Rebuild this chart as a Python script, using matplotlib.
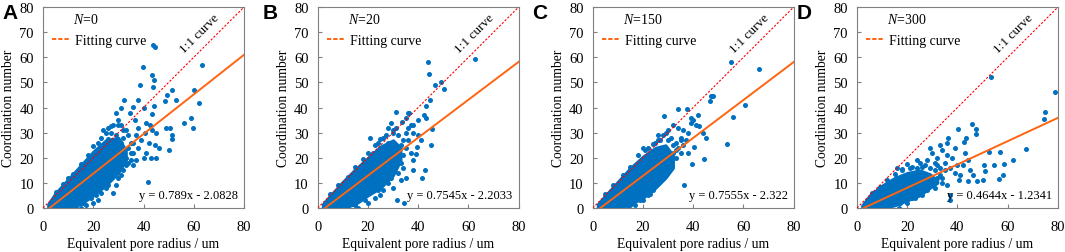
import matplotlib
matplotlib.use('Agg')
import matplotlib.pyplot as plt

plt.rcParams['font.family'] = 'Liberation Serif'
plt.rcParams['mathtext.fontset'] = 'custom'
plt.rcParams['mathtext.it'] = 'Liberation Serif:italic'
plt.rcParams['mathtext.rm'] = 'Liberation Serif'

# panel letters and simulation counts
panels = ['A', 'B', 'C', 'D']
n_values = ['0', '20', '150', '300']
equations = ['y = 0.789x - 2.0828', 'y = 0.7545x - 2.2033',
             'y = 0.7555x - 2.322', 'y = 0.4644x - 1.2341']

# fitted line end points (x where y=0, and y at x=80)
fit_x = [[2.64, 80], [2.92, 80], [3.07, 80], [2.66, 80]]
fit_y = [[0, 61.0], [0, 58.2], [0, 58.1], [0, 35.9]]

# dense core of each cloud: x, lower edge, upper edge
core_x = [[2, 5, 10, 15, 20, 25, 30, 33],
          [2, 5, 10, 15, 20, 25, 30, 33],
          [2, 5, 10, 15, 20, 25, 29, 32],
          [2, 5, 10, 15, 20, 25, 29, 32]]
core_lo = [[0, 0, 0, 1.5, 5, 9, 14, 19],
           [0, 0, 0, 1.5, 5, 8, 13, 19],
           [0, 0, 0, 1.5, 4, 8, 12, 16],
           [0, 0, 0, 1, 3, 5, 8, 10]]
core_hi = [[1.5, 6, 11.5, 17, 22.5, 27, 28, 23],
           [1.5, 5, 10.5, 15.5, 20, 24.5, 27, 24],
           [1.5, 5, 10.5, 16, 20.5, 24, 25, 21],
           [1, 5, 9, 12, 14, 15, 13.5, 11]]

# scattered pores outside the dense core
pts_a = [(43.6, 65), (44.5, 64), (63.1, 57), (39.6, 56), (43.3, 53), (44.3, 51), (38.5, 49),
         (43.7, 48), (51.4, 47), (49.2, 45), (60, 47), (52.9, 43), (62.2, 42), (48.4, 42.8),
         (58.9, 36), (59.8, 32), (56.3, 34), (50.5, 32), (48.9, 32), (51.3, 29), (51.4, 27.5),
         (50.2, 23), (41.9, 10.2), (32.2, 43), (35.9, 40.4), (34.6, 37.7), (44.3, 40.5),
         (43.2, 37.3), (41, 34), (42.5, 33), (43.5, 31), (40.5, 30), (45, 30), (38, 32),
         (36.5, 35), (37, 29), (39, 27), (42, 26), (44.5, 25), (46, 24), (45, 20), (43, 20),
         (41, 22), (40, 20), (38, 24), (36, 26), (35, 22), (33, 20), (37, 19), (36, 17),
         (32, 28), (31, 33), (30, 35), (28, 33), (33, 31), (27, 30), (26, 32), (24, 31),
         (23, 28), (29, 38), (31, 40), (38, 43), (40, 40), (28, 6), (25, 8), (22, 3), (20, 2),
         (17, 1), (13, 0), (10, 0), (8, 0), (15, 0), (30, 12), (32, 15), (34, 18), (29, 9),
         (12, 13.5), (15, 17.5), (18, 21), (20, 24.5), (22, 26), (25, 30), (27, 32.5),
         (30, 33), (32, 31), (34, 29), (35, 26), (34, 24), (36, 22), (31, 26), (29, 29),
         (26, 27.5), (24, 25), (8, 9.5), (5, 6.5), (10, 12), (16, 2), (19, 4), (23, 6),
         (26, 9), (31, 13), (33, 17), (35, 19), (27, 12), (21, 5)]
pts_b = [(44, 58.2), (62.8, 59.2), (44.5, 53.3), (49, 50.3), (46.6, 49), (50.2, 47.2),
         (44.9, 43.2), (43.2, 40.8), (42.4, 37.1), (43.3, 35.8), (45.6, 31.6), (45.3, 25.2),
         (42.6, 15), (41.7, 12), (39.3, 21.4), (39.5, 24.3), (31.4, 3), (34.4, 2), (36.4, 37.9),
         (31, 38.2), (33.4, 34.2), (37, 33), (38, 30), (40, 29), (41, 27), (36, 27), (35, 24),
         (37, 22), (38, 19), (34, 21), (33, 18), (31, 32), (30, 30), (28, 32), (29, 34),
         (26, 28), (24, 26), (22, 22), (21, 28), (35, 36), (36, 38), (40, 35), (38, 33),
         (30, 15), (32, 14), (28, 10), (26, 7), (25, 5), (23, 4), (20, 2), (16, 0), (12, 0),
         (9, 0), (6, 0), (30, 8), (33, 11), (27, 21), (38, 15), (35, 12),
         (12, 12.5), (15, 16.5), (18, 19.5), (20, 22), (23, 25), (25, 27.5), (27, 29),
         (30, 31), (32, 29), (34, 27), (35, 30), (33, 25), (31, 22), (34, 16), (29, 12),
         (24, 7), (19, 3), (15, 1), (8, 9), (5, 5.5), (36, 32), (26, 24), (28, 26)]
pts_c = [(55, 58), (66.4, 55.4), (47.3, 44.6), (48, 44.6), (46.9, 42.6), (60.7, 41.2),
         (55.8, 36.3), (53.6, 25.3), (44.5, 19.4), (39.7, 17.5), (36.5, 9.2), (40.5, 24.4),
         (42.2, 32.5), (37.4, 39.5), (33.8, 39.5), (28.4, 36.5), (40, 35), (41, 33), (39, 34),
         (42, 37), (38, 30), (36, 31), (35, 28), (37, 27), (33, 26), (34, 32), (32, 33),
         (30, 31), (29, 30), (31, 28), (27, 27), (25, 26), (26, 29), (22, 24), (23, 22),
         (20, 24), (35, 22), (36, 25), (38, 22), (33, 20), (31, 18), (30, 15), (28, 12),
         (26, 10), (24, 7), (22, 5), (20, 3), (17, 1), (14, 0), (12, 0), (9, 0), (32, 22),
         (27, 18), (44, 30), (45, 28), (39, 36),
         (12, 13), (15, 16.5), (18, 21), (21, 23), (24, 25.5), (26, 27), (28, 29),
         (30, 27), (32, 25), (34, 24), (33, 23), (30, 20), (29, 13), (23, 5.5), (19, 3),
         (15, 1), (8, 9), (5, 5.5), (25, 21), (35, 27)]
pts_d = [(53.4, 52.3), (78.8, 46.3), (74.9, 38.4), (74.4, 35.3), (67.4, 23.3), (45.8, 33.3),
         (47.3, 31.3), (47.3, 29.3), (40.1, 31.3), (36.4, 27.7), (43.5, 28), (42.7, 26.4),
         (52.4, 22.4), (56.9, 22.1), (62, 19.1), (58.5, 17.5), (54.7, 17.1), (50.5, 17.3),
         (51, 14.9), (50.3, 11.1), (56.6, 11.7), (58.3, 13.1), (44.1, 10.8), (47.8, 10.7),
         (40.8, 11.1), (37.1, 5.1), (37.1, 3.1), (16.6, 0), (38, 20), (36, 21), (34, 23),
         (32, 20), (30, 22), (28, 19), (29, 24), (31, 18), (33, 16), (35, 15), (37, 16),
         (39, 14), (41, 13), (42, 17), (40, 17), (44, 19), (45, 15), (46, 13), (43, 22),
         (39, 24), (35, 18), (27, 17), (25, 18), (24, 16), (30, 12), (32, 12), (34, 10),
         (36, 9), (31, 8), (28, 7), (26, 5), (23, 4), (20, 2), (13, 0), (10, 0), (8, 0),
         (21, 16), (18, 15), (36, 26), (33, 25),
         (12, 11), (15, 13.5), (18, 15.5), (22, 16.5), (26, 16.5), (29, 16), (31, 15),
         (33, 13), (34, 12), (30, 10), (27, 8), (22, 4), (17, 2), (6, 6), (9, 8.5),
         (16, 16), (20, 17.5), (24, 19), (32, 17)]
points = [pts_a, pts_b, pts_c, pts_d]

blue = '#0070C0'
orange = '#FF6410'
grey = '#808080'

fig = plt.figure(figsize=(10.65, 2.53), dpi=100)
lefts = [0.0404, 0.2983, 0.5565, 0.8047]
letter_x = [0.002, 0.247, 0.4995, 0.7484]

for i in range(4):
    ax = fig.add_axes([lefts[i], 0.174, 0.1887, 0.794])
    ax.fill_between(core_x[i], core_lo[i], core_hi[i], color=blue, lw=2, zorder=2)
    xs = [p[0] for p in points[i]]
    ys = [p[1] for p in points[i]]
    ax.scatter(xs, ys, s=13, color=blue, lw=0, zorder=2)
    ax.plot([0, 80], [0, 80], color='#FF0000', lw=0.8, dashes=(2, 1.5), zorder=3)
    ax.plot(fit_x[i], fit_y[i], color=orange, lw=1.4, zorder=4)
    # legend handle only
    ax.plot([], [], color=orange, lw=1.4, dashes=(2.2, 1), label='Fitting curve')
    ax.set_xlim(0, 80)
    ax.set_ylim(0, 80)
    ax.set_xticks(range(0, 81, 20))
    ax.set_yticks(range(0, 81, 10))
    ax.tick_params(direction='in', length=3, width=0.8, color=grey, labelsize=10.5)
    ax.tick_params(axis='x', pad=8.5)
    ax.tick_params(axis='y', pad=6.5)
    for sp in ax.spines.values():
        sp.set_color(grey)
        sp.set_linewidth(0.8)
    ax.set_xlabel('Equivalent pore radius / um', fontsize=9.8, labelpad=3)
    ax.set_ylabel('Coordination number', fontsize=9.8, labelpad=3)
    ax.text(62.5, 69.5, '1:1 curve', rotation=45, ha='center', va='center', fontsize=9.5)
    ax.text(77.6, 4.0, equations[i], ha='right', va='baseline', fontsize=9)
    ax.text(11.9, 75.2, '$N$=' + n_values[i], ha='left', va='center', fontsize=10)
    ax.legend(loc='center left', bbox_to_anchor=(0.045, 0.836), frameon=False, fontsize=10,
              handlelength=1.3, handletextpad=0.35, borderaxespad=0, borderpad=0)
    fig.text(letter_x[i], 0.985, panels[i], family='Liberation Sans',
             fontweight='bold', fontsize=15, ha='left', va='top')

fig.savefig('out.png', dpi=100)
